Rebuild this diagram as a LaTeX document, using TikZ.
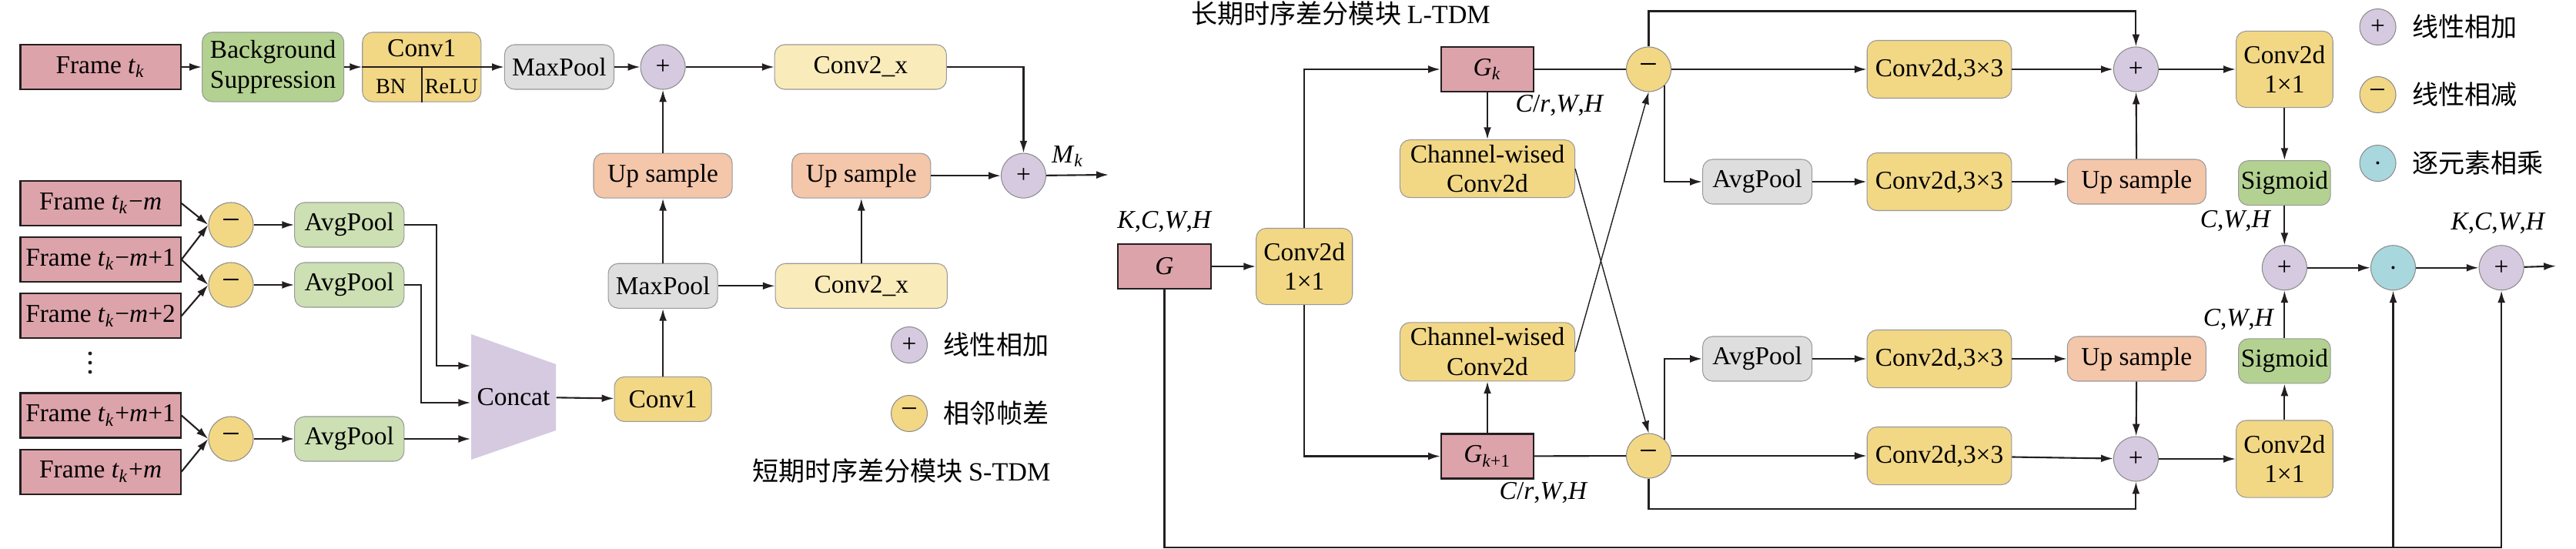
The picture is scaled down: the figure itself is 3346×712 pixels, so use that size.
\documentclass[tikz,border=0pt]{standalone}
\usepackage{fontspec}
\setmainfont{Liberation Serif}
\newfontfamily\cjk{Noto Sans CJK SC}
\usepackage{xcolor}
\usepackage{tikz}
\usetikzlibrary{arrows.meta,positioning}
\definecolor{FPink}{HTML}{DDA3AA}
\definecolor{FGreen}{HTML}{B3D190}
\definecolor{FLGreen}{HTML}{CCE0B3}
\definecolor{FYellow}{HTML}{F2D785}
\definecolor{FLYellow}{HTML}{FAEBBB}
\definecolor{FSalmon}{HTML}{F4C6AA}
\definecolor{FGray}{HTML}{DEDEDE}
\definecolor{FPurple}{HTML}{D5CAE0}
\definecolor{FCyan}{HTML}{A8D8DE}
\definecolor{FLine}{HTML}{231F20}
\newcommand{\itx}[1]{\textit{#1}}

\begin{document}
\begin{tikzpicture}[
  x=0.01cm,y=-0.01cm,
  font=\fontsize{9.5}{11}\selectfont,
  fr/.style={draw=FLine,line width=0.6pt,fill=FPink,minimum height=0.58cm,inner sep=0pt},
  rb/.style={draw=black!40,line width=0.3pt,rounded corners=0.13cm,
    minimum height=0.58cm,inner sep=0pt,align=center},
  op/.style={circle,draw=black!45,line width=0.3pt,minimum size=0.58cm,inner sep=0pt},
  pl/.style={op,fill=FPurple},
  mi/.style={op,fill=FYellow,font=\fontsize{12}{12}\selectfont},
  lg/.style={minimum size=0.47cm},
  a/.style={-{Latex[length=4.5pt,width=2.8pt]},line width=0.6pt,color=FLine},
  ln/.style={line width=0.6pt,color=FLine},
  dim/.style={inner sep=0pt},
  cn/.style={font=\cjk\fontsize{9.7}{11}\selectfont,inner sep=0pt}
]
  \useasboundingbox (0,0) rectangle (3346,712);

  \node[fr,minimum width=2.08cm] (ft) at (130.6,87) {Frame \itx{t}\textsubscript{\itx{k}}};
  \node[rb,fill=FGreen,minimum width=1.84cm,minimum height=0.9cm,right=0.263cm of ft] (bg) {Background\\Suppression};
  \node[rb,fill=FYellow,minimum width=1.54cm,minimum height=0.9cm,right=0.23cm of bg] (cv1) {};
  \node (cv1t) at ([yshift=0.24cm]cv1.center) {Conv1};
  \node[font=\fontsize{8}{9}\selectfont] (bn) at ([xshift=-0.4cm,yshift=-0.25cm]cv1.center) {BN};
  \node[font=\fontsize{8}{9}\selectfont] (relu) at ([xshift=0.385cm,yshift=-0.25cm]cv1.center) {ReLU};
  \node[rb,fill=FGray,minimum width=1.42cm,right=0.295cm of cv1] (mp1) {MaxPool};
  \node[pl,right=0.335cm of mp1] (p1) {+};
  \node[rb,fill=FLYellow,minimum width=2.23cm,right=1.15cm of p1] (c2a) {Conv2\_x};
  \node[rb,fill=FSalmon,minimum width=1.8cm,below=0.82cm of p1] (up1) {Up sample};
  \node[rb,fill=FGray,minimum width=1.42cm,below=0.84cm of up1] (mp2) {MaxPool};
  \node[rb,fill=FYellow,minimum width=1.26cm,below=0.88cm of mp2] (cv2) {Conv1};
  \node[rb,fill=FLYellow,minimum width=2.23cm,right=0.74cm of mp2] (c2b) {Conv2\_x};
  \node[rb,fill=FSalmon,minimum width=1.8cm,above=0.84cm of c2b] (up2) {Up sample};
  \node[pl,right=0.905cm of up2] (p2) {+};
  \coordinate (mk) at (1440,227);
  \node[dim] (mkl) at (1387,203) {\itx{M}\textsubscript{\itx{k}}};

  \node[fr,minimum width=2.08cm] (fa) at (130.6,264) {Frame \itx{t}\textsubscript{\itx{k}}−\itx{m}};
  \node[fr,minimum width=2.08cm,below=0.13cm of fa] (fb) {Frame \itx{t}\textsubscript{\itx{k}}−\itx{m}+1};
  \node[fr,minimum width=2.08cm,below=0.13cm of fb] (fc) {Frame \itx{t}\textsubscript{\itx{k}}−\itx{m}+2};
  \node[fr,minimum width=2.08cm,below=0.69cm of fc] (fd) {Frame \itx{t}\textsubscript{\itx{k}}+\itx{m}+1};
  \node[fr,minimum width=2.08cm,below=0.13cm of fd] (fe) {Frame \itx{t}\textsubscript{\itx{k}}+\itx{m}};
  \foreach \k in {0,1,2}
    \fill[FLine] (117,459+12*\k) circle (0.7pt);
  \node[mi] (d1) at (300,292) {−};
  \node[mi] (d2) at (300,370) {−};
  \node[mi] (d3) at (300,570) {−};
  \node[rb,fill=FLGreen,minimum width=1.42cm,right=0.526cm of d1] (ap1) {AvgPool};
  \node[rb,fill=FLGreen,minimum width=1.42cm,right=0.526cm of d2] (ap2) {AvgPool};
  \node[rb,fill=FLGreen,minimum width=1.42cm,right=0.526cm of d3] (ap3) {AvgPool};
  \fill[FPurple] (612,434) -- (722,473) -- (722,559) -- (612,597) -- cycle;
  \node[minimum width=1.1cm,minimum height=1.63cm,inner sep=0pt] (cat) at (667,515.5) {Concat};

  \node[op,lg,fill=FPurple] (lga) at (1181,448) {+};
  \node[cn,right=0.2cm of lga] (lgat) {线性相加};
  \node[op,lg,fill=FYellow,font=\fontsize{11}{11}\selectfont] (lgb) at (1181,537) {−};
  \node[cn,right=0.2cm of lgb] (lgbt) {相邻帧差};
  \node[cn] (stdm) at (1171,612) {短期时序差分模块 {\rmfamily S-TDM}};

  \draw[a] (ft) -- (bg);
  \draw[a] (bg) -- (cv1);
  \draw[ln] (cv1.west) -- (cv1.east);
  \draw[ln] (cv1.center) -- (cv1.south);
  \draw[a] (cv1) -- (mp1);
  \draw[a] (mp1) -- (p1);
  \draw[a] (p1) -- (c2a);
  \draw[a] (c2a) -| (p2);
  \draw[a] (p2) -- (mk);
  \draw[a] (up1) -- (p1);
  \draw[a] (mp2) -- (up1);
  \draw[a] (cv2) -- (mp2);
  \draw[a] (mp2) -- (c2b);
  \draw[a] (c2b) -- (up2);
  \draw[a] (up2) -- (p2);
  \draw[a] (cat) -- (cv2);
  \draw[a] (fa.east) -- (d1.west);
  \draw[a] (fb.east) -- (d1.west);
  \draw[a] (fb.east) -- (d2.west);
  \draw[a] (fc.east) -- (d2.west);
  \draw[a] (fd.east) -- (d3.west);
  \draw[a] (fe.east) -- (d3.west);
  \draw[a] (d1) -- (ap1);
  \draw[a] (d2) -- (ap2);
  \draw[a] (d3) -- (ap3);
  \draw[a] (ap1.east) -- ++(42,0) |- ([yshift=0.405cm]cat.west);
  \draw[a] (ap2.east) -- ++(22,0) |- ([yshift=-0.075cm]cat.west);
  \draw[a] (ap3) -- (ap3 -| cat.west);

  \node[cn] (ltdm) at (1741.5,18) {长期时序差分模块 {\rmfamily L-TDM}};
  \node[fr,minimum width=1.21cm] (g) at (1512.5,346) {\itx{G}};
  \node[dim] (gdim) at (1513,288) {\itx{K},\itx{C},\itx{W},\itx{H}};
  \node[rb,fill=FYellow,minimum width=1.25cm,minimum height=0.99cm,right=0.57cm of g] (lc) {Conv2d\\1×1};
  \node[fr,minimum width=1.2cm] (gk) at (1932,90) {\itx{G}\textsubscript{\itx{k}}};
  \node[fr,minimum width=1.2cm] (gk1) at (1932,592.5) {\itx{G}\textsubscript{\itx{k}+1}};
  \node[rb,fill=FYellow,minimum width=2.27cm,minimum height=0.75cm,below=0.61cm of gk] (cwa) {Channel-wised\\Conv2d};
  \node[rb,fill=FYellow,minimum width=2.27cm,minimum height=0.76cm,above=0.67cm of gk1] (cwb) {Channel-wised\\Conv2d};
  \node[dim] (gkd) at (2026,137) {\itx{C}/\itx{r},\itx{W},\itx{H}};
  \node[dim] (gk1d) at (2005,640) {\itx{C}/\itx{r},\itx{W},\itx{H}};
  \node[mi] (m1) at (2141.5,90) {−};
  \node[mi] (m2) at (2141.5,592) {−};
  \node[rb,fill=FYellow,minimum width=1.875cm,minimum height=0.75cm,right=2.535cm of m1] (ra) {Conv2d,3×3};
  \node[pl,right=1.314cm of ra] (pa) {+};
  \node[rb,fill=FYellow,minimum width=1.256cm,minimum height=0.99cm,right=1.0cm of pa] (rca) {Conv2d\\1×1};
  \node[rb,fill=FGreen,minimum width=1.195cm,below=0.68cm of rca] (sga) {Sigmoid};
  \node[pl,below=0.51cm of sga] (pm) {+};
  \node[op,fill=FCyan,right=0.82cm of pm] (dt) {.};
  \node[pl,right=0.815cm of dt] (pf) {+};
  \coordinate (out) at (3320,345.5);
  \node[dim] (pfd) at (3245,290) {\itx{K},\itx{C},\itx{W},\itx{H}};
  \node[dim] (sgad) at (2904,287) {\itx{C},\itx{W},\itx{H}};
  \node[rb,fill=FGreen,minimum width=1.195cm,below=0.62cm of pm] (sgb) {Sigmoid};
  \node[rb,fill=FYellow,minimum width=1.256cm,minimum height=1.0cm,below=0.47cm of sgb] (rcb) {Conv2d\\1×1};
  \node[dim] (sgbd) at (2908,415) {\itx{C},\itx{W},\itx{H}};
  \node[pl,left=1.0cm of rcb] (pb) {+};
  \node[rb,fill=FYellow,minimum width=1.875cm,minimum height=0.75cm,right=2.535cm of m2] (rd) {Conv2d,3×3};
  \node[rb,fill=FGray,minimum width=1.42cm] (ava) at (2282.6,236) {AvgPool};
  \node[rb,fill=FYellow,minimum width=1.875cm,minimum height=0.75cm,right=0.704cm of ava] (rb1) {Conv2d,3×3};
  \node[rb,fill=FSalmon,minimum width=1.8cm,right=0.714cm of rb1] (usa) {Up sample};
  \node[rb,fill=FGray,minimum width=1.42cm] (avb) at (2282.6,466) {AvgPool};
  \node[rb,fill=FYellow,minimum width=1.875cm,minimum height=0.75cm,right=0.704cm of avb] (rc1) {Conv2d,3×3};
  \node[rb,fill=FSalmon,minimum width=1.8cm,right=0.714cm of rc1] (usb) {Up sample};

  \node[op,lg,fill=FPurple] (lgc) at (3088.5,35) {+};
  \node[cn,right=0.2cm of lgc] (lgct) {线性相加};
  \node[op,lg,fill=FYellow,font=\fontsize{11}{11}\selectfont] (lgd) at (3088.5,123) {−};
  \node[cn,right=0.2cm of lgd] (lgdt) {线性相减};
  \node[op,lg,fill=FCyan] (lge) at (3088.5,212) {.};
  \node[cn,right=0.2cm of lge] (lget) {逐元素相乘};

  \draw[a] (g) -- (lc);
  \draw[a] (lc) |- (gk);
  \draw[a] (lc) |- (gk1);
  \draw[a] (gk) -- (cwa);
  \draw[a] (gk1) -- (cwb);
  \draw[ln] (gk) -- (m1);
  \draw[ln] (gk1) -- (m2);
  \draw[a,line width=0.4pt] (cwa.east) -- (m2.north);
  \draw[a,line width=0.4pt] (cwb.east) -- (m1.south);
  \draw[a] (m1) -- (ra);
  \draw[a] (ra) -- (pa);
  \draw[a] (m1.north) -- ++(0,-46) -| (pa);
  \draw[a] (m1.-45) |- (ava);
  \draw[a] (ava) -- (rb1);
  \draw[a] (rb1) -- (usa);
  \draw[a] (usa) -- (pa);
  \draw[a] (pa) -- (rca);
  \draw[a] (rca) -- (sga);
  \draw[a] (sga) -- (pm);
  \draw[a] (pm) -- (dt);
  \draw[a] (dt) -- (pf);
  \draw[a] (pf) -- (out);
  \draw[a] (m2.45) |- (avb);
  \draw[a] (avb) -- (rc1);
  \draw[a] (rc1) -- (usb);
  \draw[a] (usb) -- (pb);
  \draw[a] (m2) -- (rd);
  \draw[a] (rd) -- (pb);
  \draw[a] (m2.south) -- ++(0,39.7) -| (pb);
  \draw[a] (pb) -- (rcb);
  \draw[a] (rcb) -- (sgb);
  \draw[a] (sgb) -- (pm);
  \coordinate (bot) at ([yshift=-3.35cm]g.south);
  \draw[a] (g) -- (bot) -| (pf);
  \draw[a] (bot -| dt) -- (dt);
\end{tikzpicture}
\end{document}
